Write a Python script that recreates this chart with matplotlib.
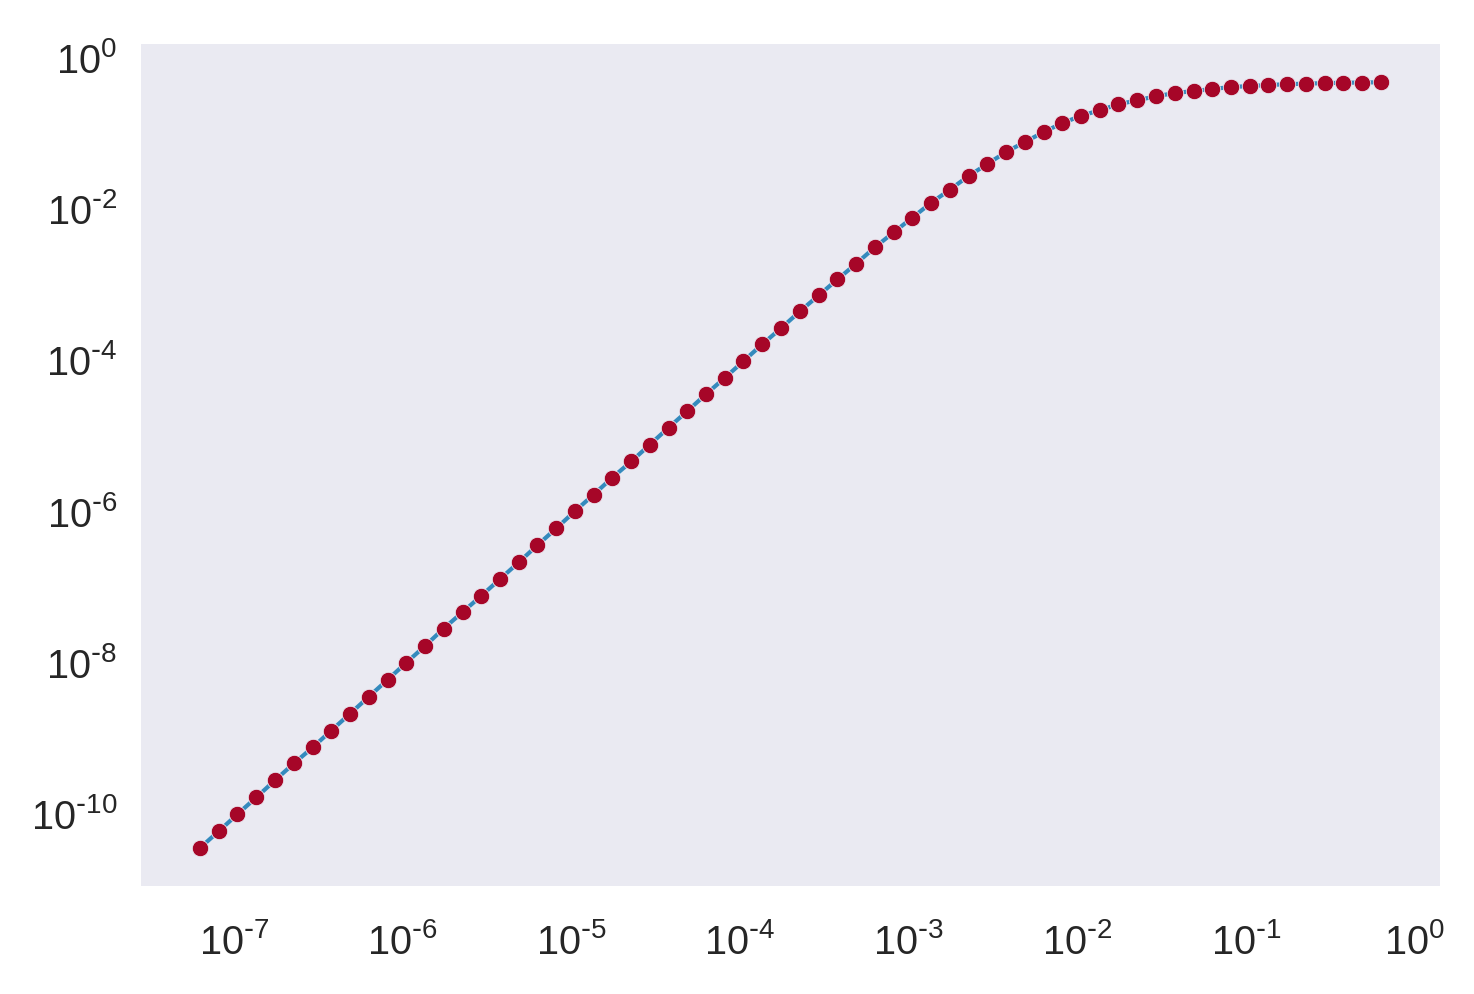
import matplotlib
matplotlib.use("Agg")
import matplotlib.pyplot as plt
import matplotlib.transforms as mtransforms
from matplotlib.ticker import FuncFormatter, NullLocator
import numpy as np

# values (log-log)
x = [6.31e-8, 8.15e-8,
     1.05e-7, 1.36e-7, 1.75e-7, 2.27e-7, 2.93e-7, 3.78e-7, 4.89e-7, 6.31e-7, 8.15e-7,
     1.05e-6, 1.36e-6, 1.75e-6, 2.27e-6, 2.93e-6, 3.78e-6, 4.89e-6, 6.31e-6, 8.15e-6,
     1.05e-5, 1.36e-5, 1.75e-5, 2.27e-5, 2.93e-5, 3.78e-5, 4.89e-5, 6.31e-5, 8.15e-5,
     1.05e-4, 1.36e-4, 1.75e-4, 2.27e-4, 2.93e-4, 3.78e-4, 4.89e-4, 6.31e-4, 8.15e-4,
     1.05e-3, 1.36e-3, 1.75e-3, 2.27e-3, 2.93e-3, 3.78e-3, 4.89e-3, 6.31e-3, 8.15e-3,
     1.05e-2, 1.36e-2, 1.75e-2, 2.27e-2, 2.93e-2, 3.78e-2, 4.89e-2, 6.31e-2, 8.15e-2,
     0.105, 0.136, 0.175, 0.227, 0.293, 0.378, 0.489, 0.631]

y = [2.84e-11, 4.71e-11, 7.89e-11, 1.32e-10, 2.21e-10, 3.71e-10, 6.03e-10, 1.01e-9,
     1.69e-9, 2.83e-9, 4.74e-9, 7.94e-9, 1.33e-8, 2.25e-8, 3.73e-8, 6.12e-8,
     1.02e-7, 1.70e-7, 2.87e-7, 4.78e-7, 8.05e-7, 1.34e-6, 2.24e-6, 3.67e-6,
     6.15e-6, 1.03e-5, 1.71e-5, 2.86e-5, 4.70e-5, 7.80e-5, 1.31e-4, 2.12e-4,
     3.56e-4, 5.78e-4, 9.38e-4, 1.52e-3, 2.50e-3, 3.94e-3, 6.15e-3, 9.70e-3,
     1.44e-2, 2.20e-2, 3.17e-2, 4.56e-2, 6.18e-2, 8.36e-2, 0.110, 0.137,
     0.163, 0.195, 0.221, 0.249, 0.275, 0.292, 0.311, 0.330,
     0.340, 0.351, 0.360, 0.366, 0.372, 0.376, 0.379, 0.382]

xticks = [1e-7, 1e-6, 1e-5, 1e-4, 1e-3, 1e-2, 1e-1, 1e0]
yticks = [1e-10, 1e-8, 1e-6, 1e-4, 1e-2, 1e0]

plt.rcParams['font.family'] = ['Liberation Sans', 'DejaVu Sans']
plt.rcParams['mathtext.default'] = 'regular'

def fmt(v, pos):
    e = int(round(np.log10(v)))
    if e < 0:
        return r'$10^{\text{-}%d}$' % (-e)
    return r'$10^{%d}$' % e

fig = plt.figure(figsize=(7.37, 4.975), dpi=200)
ax = fig.add_axes([0.0957, 0.1085, 0.8812, 0.8463])
ax.set_facecolor('#EAEAF2')
for s in ax.spines.values():
    s.set_visible(False)

ax.plot(x, y, color='#348ABD', lw=1.5, zorder=2)
ax.plot(x, y, 'o', color='#A60628', ms=5.9, mec='#EAEAF2', mew=0.3, zorder=3)

ax.set_xscale('log')
ax.set_yscale('log')
ax.set_xticks(xticks)
ax.set_yticks(yticks)
ax.xaxis.set_minor_locator(NullLocator())
ax.yaxis.set_minor_locator(NullLocator())
ax.xaxis.set_major_formatter(FuncFormatter(fmt))
ax.yaxis.set_major_formatter(FuncFormatter(fmt))
ax.tick_params(length=0, labelsize=14.3, colors='#262626')
ax.tick_params(axis='x', pad=13)
ax.tick_params(axis='y', pad=8.5)
ax.grid(False)

# nudge y labels down a little, like the reference
shift = mtransforms.ScaledTranslation(0, -0.03, fig.dpi_scale_trans)
for lab in ax.get_yticklabels():
    lab.set_transform(lab.get_transform() + shift)

fig.savefig('out.png', dpi=200)
